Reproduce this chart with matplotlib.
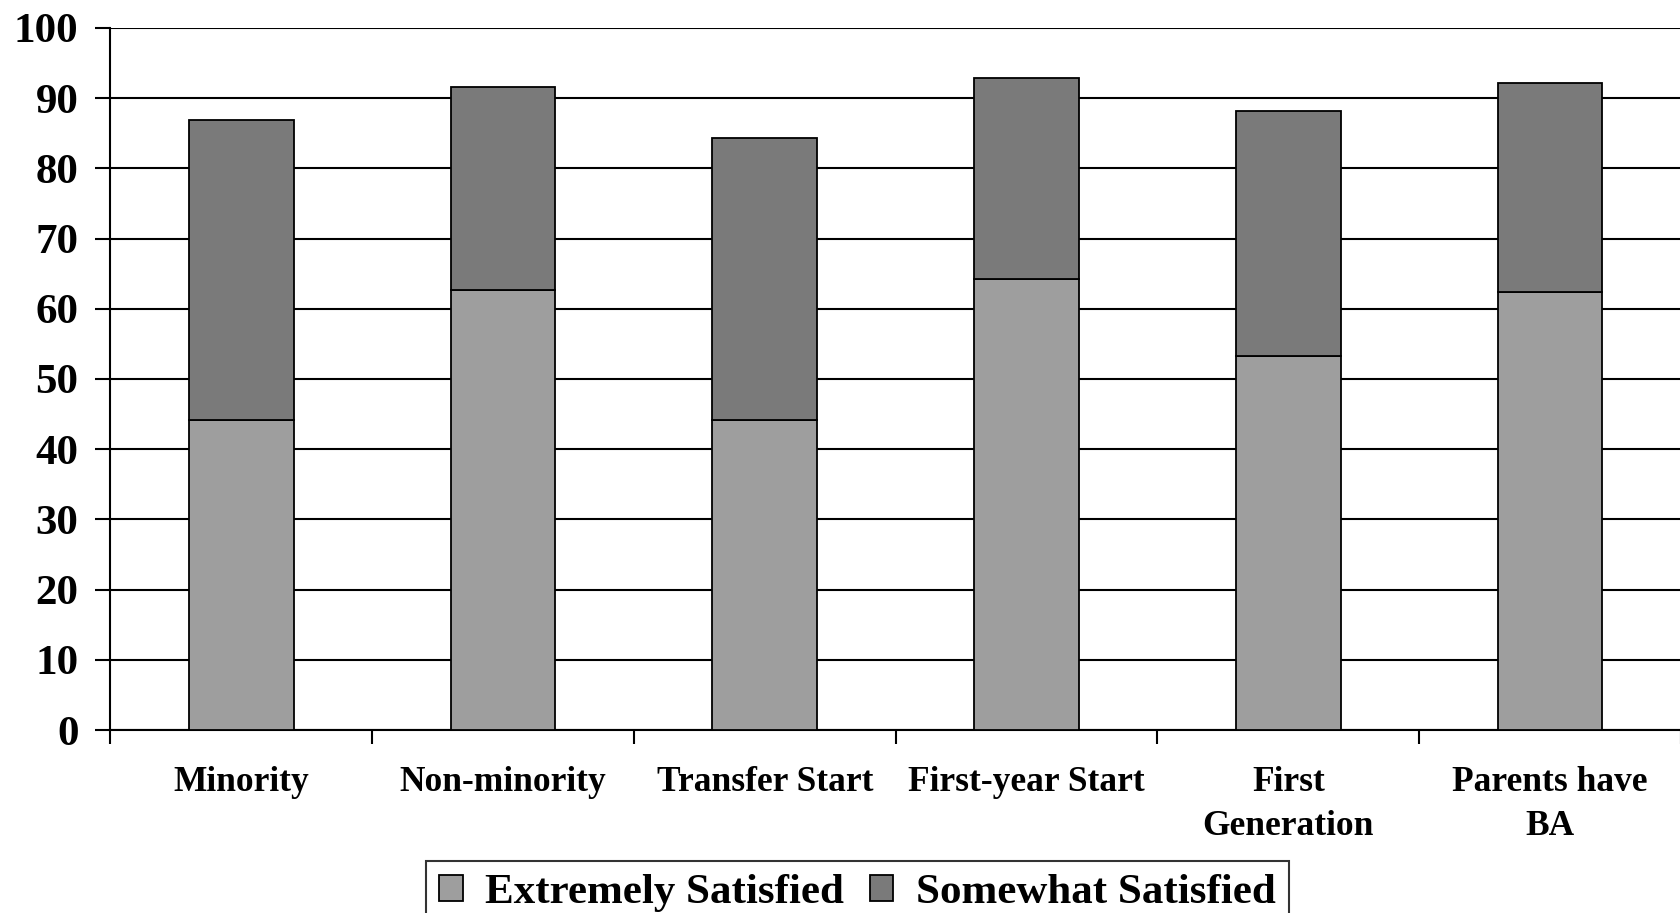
import matplotlib.pyplot as plt
import numpy as np

# data
categories = ["Minority", "Non-minority", "Transfer Start", "First-year Start",
              "First\nGeneration", "Parents have\nBA"]
extremely = [44.1, 62.7, 44.1, 64.3, 53.3, 62.4]
somewhat = [42.8, 28.9, 40.2, 28.5, 34.8, 29.7]
yticks = [0, 10, 20, 30, 40, 50, 60, 70, 80, 90, 100]

plt.rcParams["font.family"] = ["Liberation Serif", "DejaVu Serif"]

fig = plt.figure(figsize=(16.81, 9.13), dpi=100)
ax = fig.add_axes([0.0657, 0.2004, 0.9343, 0.769])

x = np.arange(len(categories))
ax.bar(x, extremely, width=0.4, color="#9e9e9e", edgecolor="black",
       linewidth=1.3, label="Extremely Satisfied", zorder=3)
ax.bar(x, somewhat, width=0.4, bottom=extremely, color="#7a7a7a",
       edgecolor="black", linewidth=1.3, label="Somewhat Satisfied", zorder=3)

ax.set_xlim(-0.5, len(categories) - 0.5)
ax.set_ylim(0, 100)
ax.set_yticks(yticks)
ax.set_yticklabels([str(v) for v in yticks], fontsize=31, fontweight="bold")
ax.yaxis.grid(True, color="black", linewidth=1.5, zorder=0)
ax.set_axisbelow(True)

# category boundaries get the ticks, labels sit in between
ax.set_xticks(np.arange(len(categories) + 1) - 0.5)
ax.set_xticklabels([])
ax.set_xticks(x, minor=True)
ax.set_xticklabels(categories, minor=True, fontsize=25.5, fontweight="bold",
                   linespacing=1.45)
ax.tick_params(axis="x", which="major", length=10, width=1.5, direction="out")
ax.tick_params(axis="x", which="minor", length=0, pad=26)
ax.tick_params(axis="y", length=11, width=1.5, pad=12)

for s in ["top", "right"]:
    ax.spines[s].set_visible(False)
ax.spines["left"].set_linewidth(1.5)
ax.spines["bottom"].set_linewidth(1.5)

leg = fig.legend(loc="lower center", bbox_to_anchor=(0.51, -0.027), ncol=2,
                 frameon=True, fancybox=False, edgecolor="black",
                 prop={"size": 31, "weight": "bold"},
                 handlelength=0.55, handleheight=0.55, handletextpad=0.52,
                 columnspacing=0.6, borderpad=0.3, borderaxespad=0.3)
leg.get_frame().set_linewidth(1.5)

fig.savefig("out.png", dpi=100)
